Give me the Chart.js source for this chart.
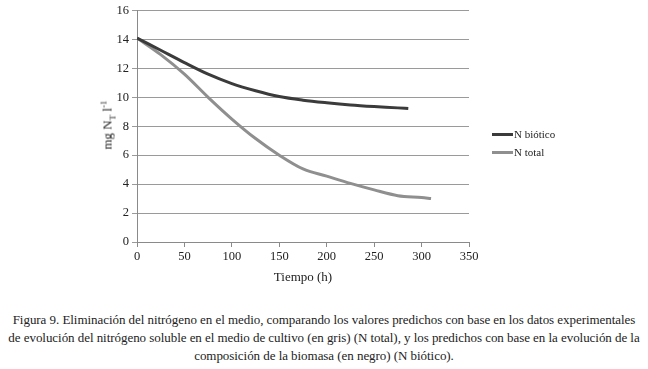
<!DOCTYPE html>
<html>
<head>
<meta charset="utf-8">
<script src="https://cdn.jsdelivr.net/npm/chart.js@4"></script>
<style>
  html, body { margin: 0; padding: 0; background: #fff; }
  body { width: 648px; height: 369px; position: relative; overflow: hidden; font-family: "Liberation Serif", "DejaVu Serif", serif; color: #222; }
  #chart-wrap { position: absolute; left: 0; top: 0; width: 648px; height: 290px; }
  #y-title { position: absolute; left: 108px; top: 125px; transform: translate(-50%, -50%) rotate(-90deg); font-size: 13px; white-space: nowrap; }
  #y-title sub, #y-title sup { font-size: 9px; }
  .legend-item { position: absolute; left: 492px; font-size: 11px; line-height: 12px; white-space: nowrap; }
  .legend-item span { display: inline-block; width: 21px; height: 3px; vertical-align: middle; margin-right: 1px; position: relative; top: -1px; }
  #caption { position: absolute; left: 0; top: 311px; width: 648px; text-align: center; font-size: 13px; line-height: 18px; letter-spacing: -0.05px; }
</style>
</head>
<body>
<div id="chart-wrap"><canvas id="js-chart-nitrogeno"></canvas></div>
<div id="y-title">mg N<sub>T</sub> l<sup>-1</sup></div>
<div class="legend-item" style="top:128px"><span style="background:#3b3b3b"></span>N biótico</div>
<div class="legend-item" style="top:146px"><span style="background:#8f8f8f"></span>N total</div>
<div id="caption">Figura 9. Eliminación del nitrógeno en el medio, comparando los valores predichos con base en los datos experimentales<br>de evolución del nitrógeno soluble en el medio de cultivo (en gris) (N total), y los predichos con base en la evolución de la<br>composición de la biomasa (en negro) (N biótico).</div>
<script>
// Data
const tiempoBiotico = [0, 25, 50, 75, 100, 125, 150, 175, 200, 225, 250, 275, 286];
const nBiotico = [14.1, 13.25, 12.4, 11.6, 10.95, 10.45, 10.05, 9.8, 9.62, 9.47, 9.36, 9.27, 9.22];

const tiempoTotal = [0, 25, 50, 75, 100, 125, 150, 175, 200, 225, 250, 275, 300, 310];
const nTotal = [14.1, 12.95, 11.6, 10.0, 8.5, 7.15, 6.0, 5.05, 4.55, 4.05, 3.6, 3.2, 3.07, 3.0];

const xTicks = [0, 50, 100, 150, 200, 250, 300, 350];
const yTicks = [0, 2, 4, 6, 8, 10, 12, 14, 16];

const toPoints = (xs, ys) => xs.map((x, i) => ({x: x, y: ys[i]}));

Chart.defaults.font.family = '"Liberation Serif", "DejaVu Serif", serif';
Chart.defaults.color = '#222';

let chartCon = document.getElementById('js-chart-nitrogeno');

let chartData = {
  datasets: [
    {
      label: 'N biótico',
      data: toPoints(tiempoBiotico, nBiotico),
      borderColor: '#3b3b3b',
      borderWidth: 3,
      pointRadius: 0,
      cubicInterpolationMode: 'monotone',
      fill: false
    },
    {
      label: 'N total',
      data: toPoints(tiempoTotal, nTotal),
      borderColor: '#8f8f8f',
      borderWidth: 3,
      pointRadius: 0,
      cubicInterpolationMode: 'monotone',
      fill: false
    }
  ]
};

let chartOptions = {
  responsive: true,
  maintainAspectRatio: false,
  animation: false,
  layout: { padding: { left: 0, right: 179, top: 8, bottom: 0 } },
  scales: {
    x: {
      type: 'linear',
      min: 0,
      max: 350,
      afterFit: (s) => { s.height = 48; },
      afterBuildTicks: (s) => { s.ticks = xTicks.map(v => ({value: v})); },
      grid: { drawOnChartArea: false, drawTicks: true, tickLength: 5, color: '#8a8a8a' },
      border: { display: true, color: '#8a8a8a' },
      ticks: { font: { size: 12.5 }, padding: 2, maxRotation: 0 },
      title: { display: true, text: 'Tiempo (h)', font: { size: 13 }, padding: { top: 0, bottom: 5 } }
    },
    y: {
      min: 0,
      max: 16,
      afterFit: (s) => { s.width = 137; },
      afterBuildTicks: (s) => { s.ticks = yTicks.map(v => ({value: v})); },
      grid: { color: '#9a9a9a', tickLength: 5 },
      border: { display: true, color: '#8a8a8a' },
      ticks: { font: { size: 12.5 }, padding: 3 }
    }
  },
  plugins: {
    legend: { display: false },
    tooltip: { enabled: false }
  }
};

new Chart(chartCon, {type: 'line', data: chartData, options: chartOptions});
</script>
</body>
</html>
